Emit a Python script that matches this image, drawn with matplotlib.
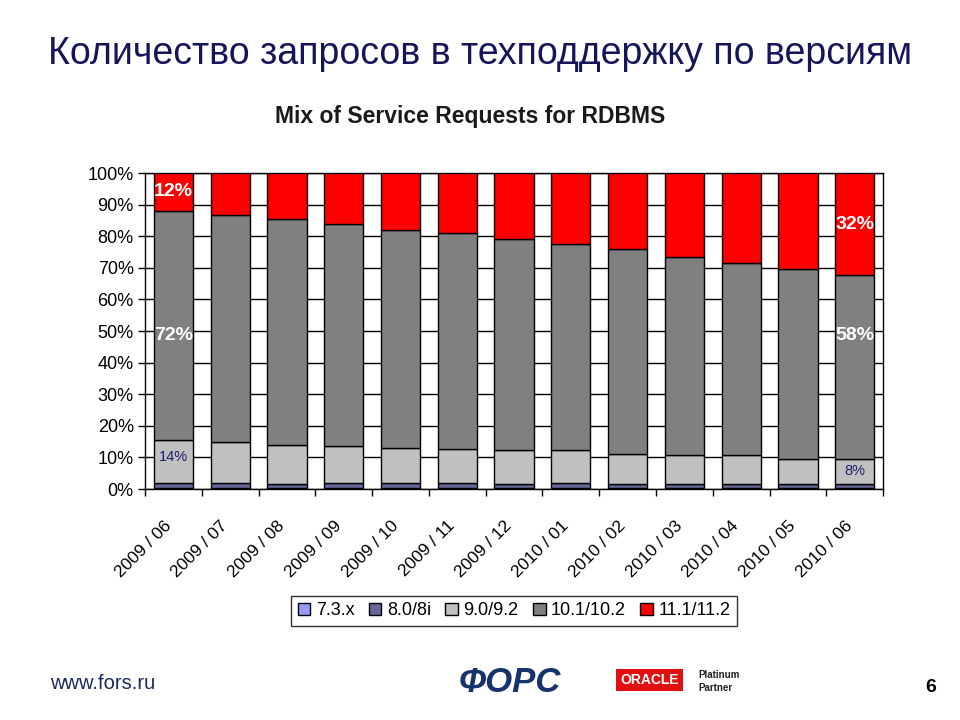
import matplotlib
matplotlib.use("Agg")
import matplotlib.pyplot as plt
import matplotlib.transforms as mtrans
import numpy as np

months = ["2009 / 06", "2009 / 07", "2009 / 08", "2009 / 09", "2009 / 10", "2009 / 11",
          "2009 / 12", "2010 / 01", "2010 / 02", "2010 / 03", "2010 / 04", "2010 / 05", "2010 / 06"]
series_names = ["7.3.x", "8.0/8i", "9.0/9.2", "10.1/10.2", "11.1/11.2"]
v73 = [0.3, 0.3, 0.2, 0.2, 0.2, 0.2, 0.2, 0.2, 0.2, 0.2, 0.2, 0.2, 0.2]
v80 = [1.7, 1.7, 1.3, 1.6, 1.6, 1.6, 1.3, 1.6, 1.3, 1.3, 1.3, 1.3, 1.3]
v90 = [13.5, 12.9, 12.5, 11.7, 11.1, 10.9, 10.8, 10.5, 9.7, 9.2, 9.2, 8.1, 8.1]
v101 = [72.5, 71.8, 71.4, 70.4, 69.1, 68.3, 66.8, 65.2, 64.7, 62.7, 60.8, 60.0, 58.1]
v111 = [12.0, 13.3, 14.6, 16.1, 18.0, 19.0, 20.9, 22.5, 24.1, 26.6, 28.5, 30.4, 32.3]
colors = ["#9999FF", "#666699", "#C0C0C0", "#808080", "#FF0000"]

plt.rcParams['font.family'] = ["Liberation Sans", 'DejaVu Sans']

fig = plt.figure(figsize=(9.6, 7.2), dpi=100)
ax = fig.add_axes([0.151, 0.3208, 0.769, 0.4389])

x = np.arange(len(months))
data = [v73, v80, v90, v101, v111]
bottom = np.zeros(len(months))
for vals, c, name in zip(data, colors, series_names):
    ax.bar(x, vals, bottom=bottom, width=0.69, color=c, edgecolor="black",
           linewidth=1.0, label=name, zorder=3)
    bottom += np.array(vals)

ax.set_xlim(-0.5, len(months) - 0.5)
ax.set_ylim(0, 100)
ax.set_yticks(np.arange(0, 101, 10))
ax.set_yticklabels([f"{t}%" for t in range(0, 101, 10)], fontsize=13)
ax.yaxis.grid(True, color="black", linewidth=1.0, zorder=0)
ax.set_axisbelow(True)
ax.tick_params(axis="y", direction="out", length=5, width=1, color="black", pad=3)

ax.set_xticks(x)
ax.set_xticklabels(months, rotation=45, ha="right", rotation_mode="anchor", fontsize=12.5)
ax.tick_params(axis="x", length=0, pad=18)
offset = mtrans.ScaledTranslation(-10 / 100, -4 / 100, fig.dpi_scale_trans)
for lab in ax.get_xticklabels():
    lab.set_transform(lab.get_transform() + offset)
ax.set_xticks(np.arange(-0.5, len(months), 1), minor=True)
ax.tick_params(axis="x", which="minor", length=5, width=1, color="black")
for s in ax.spines.values():
    s.set_linewidth(1.0)
    s.set_color("black")

# value labels
i0, i1 = 0, len(months) - 1
cum80 = np.array(v73) + np.array(v80)
cum90 = cum80 + np.array(v90)
cum101 = cum90 + np.array(v101)
for i in (i0, i1):
    ax.text(i, cum101[i] + v111[i] / 2, f"{round(v111[i])}%", ha="center", va="center",
            color="white", fontsize=14, fontweight="bold", zorder=5)
    ax.text(i, 48.5, f"{round(v101[i])}%", ha="center", va="center",
            color="white", fontsize=14, fontweight="bold", zorder=5)
    ax.text(i, cum80[i] + v90[i] / 2 + (1.5 if i == i0 else 0), f"{round(v90[i])}%",
            ha="center", va="center", color="#1f1f6e", fontsize=10.5, zorder=5)

leg = ax.legend(loc="upper center", bbox_to_anchor=(0.5, -0.31), ncol=5, frameon=True,
                fontsize=13, handlelength=0.7, handleheight=0.7, handletextpad=0.3,
                columnspacing=0.8, borderpad=0.35, fancybox=False, edgecolor="black")
leg.get_frame().set_linewidth(1.0)

fig.text(0.5, 0.925, "Количество запросов в техподдержку по версиям", ha="center", va="center",
         fontsize=27, color="#15155a")
fig.text(0.49, 0.838, "Mix of Service Requests for RDBMS", ha="center", va="center",
         fontsize=16.5, fontweight="bold", color="#1a1a1a")

# footer
fig.text(0.052, 0.051, "www.fors.ru", ha="left", va="center", fontsize=14.5,
         color="#1a2a5e")
fig.text(0.478, 0.052, "ФОРС", ha="left", va="center", fontsize=25, color="#17336b",
         fontweight="bold", style="italic")
fig.text(0.646, 0.056, "ORACLE", ha="left", va="center", fontsize=10, color="white",
         fontweight="bold", bbox=dict(boxstyle="square,pad=0.3", fc="#e01010", ec="none"))
fig.text(0.727, 0.063, "Platinum", ha="left", va="center", fontsize=7, color="#222222",
         fontweight="bold")
fig.text(0.727, 0.044, "Partner", ha="left", va="center", fontsize=7, color="#222222",
         fontweight="bold")
fig.text(0.969, 0.045, "6", ha="center", va="center", fontsize=14, fontweight="bold",
         color="black")

fig.savefig("out.png", dpi=100, facecolor="white")
